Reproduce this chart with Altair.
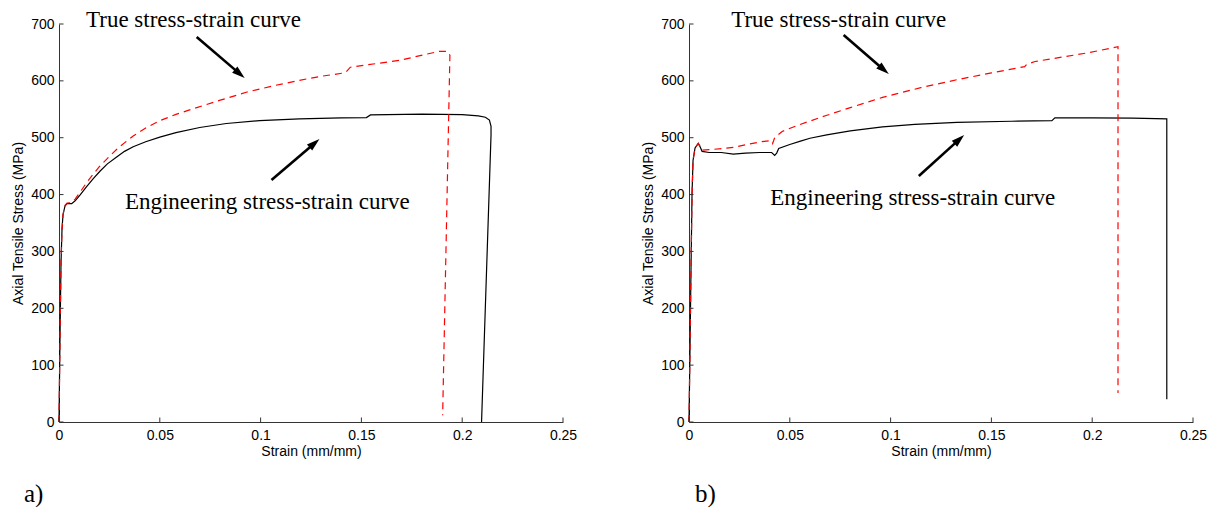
import math
import altair as alt
import pandas as pd

# ---------------- data ----------------
# panel a) engineering stress-strain curve
a_eng_x = [0, 0.0005, 0.001, 0.0015, 0.002, 0.003, 0.004, 0.0063, 0.008, 0.0104, 0.0135,
           0.017, 0.0203, 0.024, 0.0286, 0.0325, 0.0368, 0.043, 0.05, 0.058, 0.0698,
           0.083, 0.0995, 0.1193, 0.14, 0.1525, 0.1545, 0.18, 0.2, 0.208, 0.2115,
           0.2135, 0.2143, 0.2143, 0.2096]
a_eng_y = [0, 150, 280, 340, 365, 380, 384, 384, 389, 399, 413,
           428, 441, 454, 466, 476, 484, 493, 501, 509, 518,
           525, 530, 533, 535, 535.5, 540, 541.5, 540.5, 538.5, 536,
           531, 520, 505, 0]
# panel a) true stress-strain curve
a_true_x = [0, 0.0005, 0.001, 0.0015, 0.002, 0.003, 0.004, 0.0063, 0.008, 0.0104, 0.0135,
            0.017, 0.02, 0.0252, 0.03, 0.0368, 0.043, 0.05, 0.058, 0.0665, 0.08,
            0.0929, 0.106, 0.1193, 0.13, 0.1416, 0.1425, 0.1445, 0.1688, 0.1886, 0.1925,
            0.1939, 0.1903]
a_true_y = [0, 150, 280, 340, 365, 381, 385, 386, 392, 404, 420,
            436, 449, 468, 484, 503, 517, 530, 541, 551, 566,
            580, 591, 601, 608, 614, 616, 624, 636, 652, 652,
            645, 12]
# panel b) engineering stress-strain curve
b_eng_x = [0, 0.0005, 0.001, 0.0015, 0.002, 0.003, 0.0046, 0.0055, 0.0065, 0.01, 0.016,
           0.022, 0.028, 0.035, 0.041, 0.0425, 0.0435, 0.0445, 0.05, 0.0553, 0.06,
           0.0683, 0.08, 0.096, 0.112, 0.1329, 0.16, 0.18, 0.1815, 0.2, 0.22,
           0.237, 0.237]
b_eng_y = [0, 130, 270, 400, 460, 482, 490, 484, 476, 474, 474,
           471, 473, 474, 474, 469, 473, 481, 488, 494, 499,
           505, 512, 519, 523.5, 527, 529, 530, 535, 535, 534.5,
           533, 40]
# panel b) true stress-strain curve
b_true_x = [0, 0.0005, 0.001, 0.0015, 0.002, 0.003, 0.0046, 0.0055, 0.0065, 0.01, 0.017,
            0.0222, 0.03, 0.036, 0.041, 0.0415, 0.0425, 0.0462, 0.054, 0.068, 0.08,
            0.096, 0.115, 0.1329, 0.15, 0.1665, 0.1675, 0.1716, 0.1974, 0.2128, 0.2128]
b_true_y = [0, 130, 270, 400, 460, 482, 490, 485, 478, 479, 481,
            483, 489, 493, 495, 490, 500, 511, 522, 539, 553,
            571, 588, 602, 614, 625, 629, 634, 649, 660, 51]

x_ticks = [0, 0.05, 0.1, 0.15, 0.2, 0.25]
y_ticks = [0, 100, 200, 300, 400, 500, 600, 700]
x_title = "Strain (mm/mm)"
y_title = "Axial Tensile Stress (MPa)"
ann_texts = ["True stress-strain curve", "Engineering stress-strain curve"]
panel_labels = ["a)", "b)"]

# annotation anchors in data units: text (left, baseline), arrows (tail -> tip)
a_text_x = [0.0134, 0.0327]
a_text_y = [694.8, 374.6]
a_arrow_x0 = [0.0683, 0.1054]
a_arrow_y0 = [677, 425.6]
a_arrow_x1 = [0.0921, 0.1292]
a_arrow_y1 = [605, 497.7]

b_text_x = [0.0209, 0.0403]
b_text_y = [694.8, 381.6]
b_arrow_x0 = [0.0767, 0.114]
b_arrow_y0 = [680.7, 432.7]
b_arrow_x1 = [0.0991, 0.1365]
b_arrow_y1 = [612, 504.8]

# ---------------- layout / style ----------------
W, H = 504, 398
SANS = "Liberation Sans"
SERIF = "Liberation Serif"
ARROW_PATH = "M0,0L0.62,2L-0.62,2Z"

xscale = alt.Scale(domain=[0, 0.25], nice=False, zero=False)
yscale = alt.Scale(domain=[0, 700], nice=False, zero=False)

x_axis = alt.Axis(values=x_ticks, format="~g", title=x_title, ticks=False,
                  grid=False, domainColor="#333333", domainWidth=1,
                  labelFont=SANS, labelFontSize=14, labelColor="black",
                  labelPadding=6, titleFont=SANS, titleFontSize=14,
                  titleFontWeight="normal", titleColor="black",
                  titlePadding=2, labelFlush=False)
y_axis = alt.Axis(values=y_ticks, title=y_title, ticks=False, grid=False,
                  domainColor="#333333", domainWidth=1,
                  labelFont=SANS, labelFontSize=14, labelColor="black",
                  labelPadding=5, titleFont=SANS, titleFontSize=14,
                  titleFontWeight="normal", titleColor="black",
                  titlePadding=5, labelFlush=False)


def make_panel(ex, ey, tx, ty, txt_x, txt_y, ax0, ay0, ax1, ay1, label, label_dx):
    eng = pd.DataFrame({"x": ex, "y": ey, "i": range(len(ex))})
    tru = pd.DataFrame({"x": tx, "y": ty, "i": range(len(tx))})

    base_x = alt.X("x:Q", scale=xscale, axis=x_axis)
    base_y = alt.Y("y:Q", scale=yscale, axis=y_axis)

    eng_line = alt.Chart(eng).mark_line(color="black", strokeWidth=1.2).encode(
        x=base_x, y=base_y, order="i:Q")
    true_line = alt.Chart(tru).mark_line(color="#ff0000", strokeWidth=1.2,
                                         strokeDash=[7, 5]).encode(
        x=base_x, y=base_y, order="i:Q")

    # inward tick marks
    xt = alt.Chart(pd.DataFrame({"x": x_ticks})).mark_rule(color="#333333", strokeWidth=1).encode(
        x=base_x, y=alt.value(H), y2=alt.value(H - 4.5))
    yt = alt.Chart(pd.DataFrame({"y": y_ticks})).mark_rule(color="#333333", strokeWidth=1).encode(
        y=base_y, x=alt.value(0), x2=alt.value(4.5))

    txt = alt.Chart(pd.DataFrame({"x": txt_x, "y": txt_y, "text": ann_texts})).mark_text(
        font=SERIF, fontSize=23, align="left", baseline="alphabetic", color="black").encode(
        x=base_x, y=base_y, text="text:N")

    # arrows: shaft ends inside the head, head tip at the arrow end
    sx1 = [a + 0.85 * (b - a) for a, b in zip(ax0, ax1)]
    sy1 = [a + 0.85 * (b - a) for a, b in zip(ay0, ay1)]
    angs = []
    for x0, y0, x1, y1 in zip(ax0, ay0, ax1, ay1):
        dxp = (x1 - x0) / 0.25 * W
        dyp = -(y1 - y0) / 700 * H
        angs.append(math.degrees(math.atan2(dxp, -dyp)) % 360)
    shafts = alt.Chart(pd.DataFrame({"x": ax0, "y": ay0, "x2": sx1, "y2": sy1})).mark_rule(
        color="black", strokeWidth=2.6).encode(
        x=base_x, y=base_y, x2="x2:Q", y2="y2:Q")
    heads = alt.Chart(pd.DataFrame({"x": ax1, "y": ay1, "ang": angs})).mark_point(
        shape=ARROW_PATH, filled=True, size=170, color="black", opacity=1, strokeWidth=0).encode(
        x=base_x, y=base_y, angle=alt.Angle("ang:Q", scale=None))

    lab = alt.Chart(pd.DataFrame({"text": [label]})).mark_text(
        font=SERIF, fontSize=25, align="left", baseline="alphabetic", color="black").encode(
        x=alt.value(label_dx), y=alt.value(H + 80), text="text:N")

    return alt.layer(eng_line, true_line, xt, yt, shafts, heads, txt, lab).properties(
        width=W, height=H)


pa = make_panel(a_eng_x, a_eng_y, a_true_x, a_true_y, a_text_x, a_text_y,
                a_arrow_x0, a_arrow_y0, a_arrow_x1, a_arrow_y1, panel_labels[0], -35)
pb = make_panel(b_eng_x, b_eng_y, b_true_x, b_true_y, b_text_x, b_text_y,
                b_arrow_x0, b_arrow_y0, b_arrow_x1, b_arrow_y1, panel_labels[1], 6)

chart = alt.hconcat(pa, pb, spacing=126, bounds="flush").properties(
    padding={"left": 3, "top": 0, "right": 0, "bottom": 0},
    background="white",
).configure_view(strokeWidth=0)

chart.save("out.html", embed_options={"renderer": "svg", "actions": False})
